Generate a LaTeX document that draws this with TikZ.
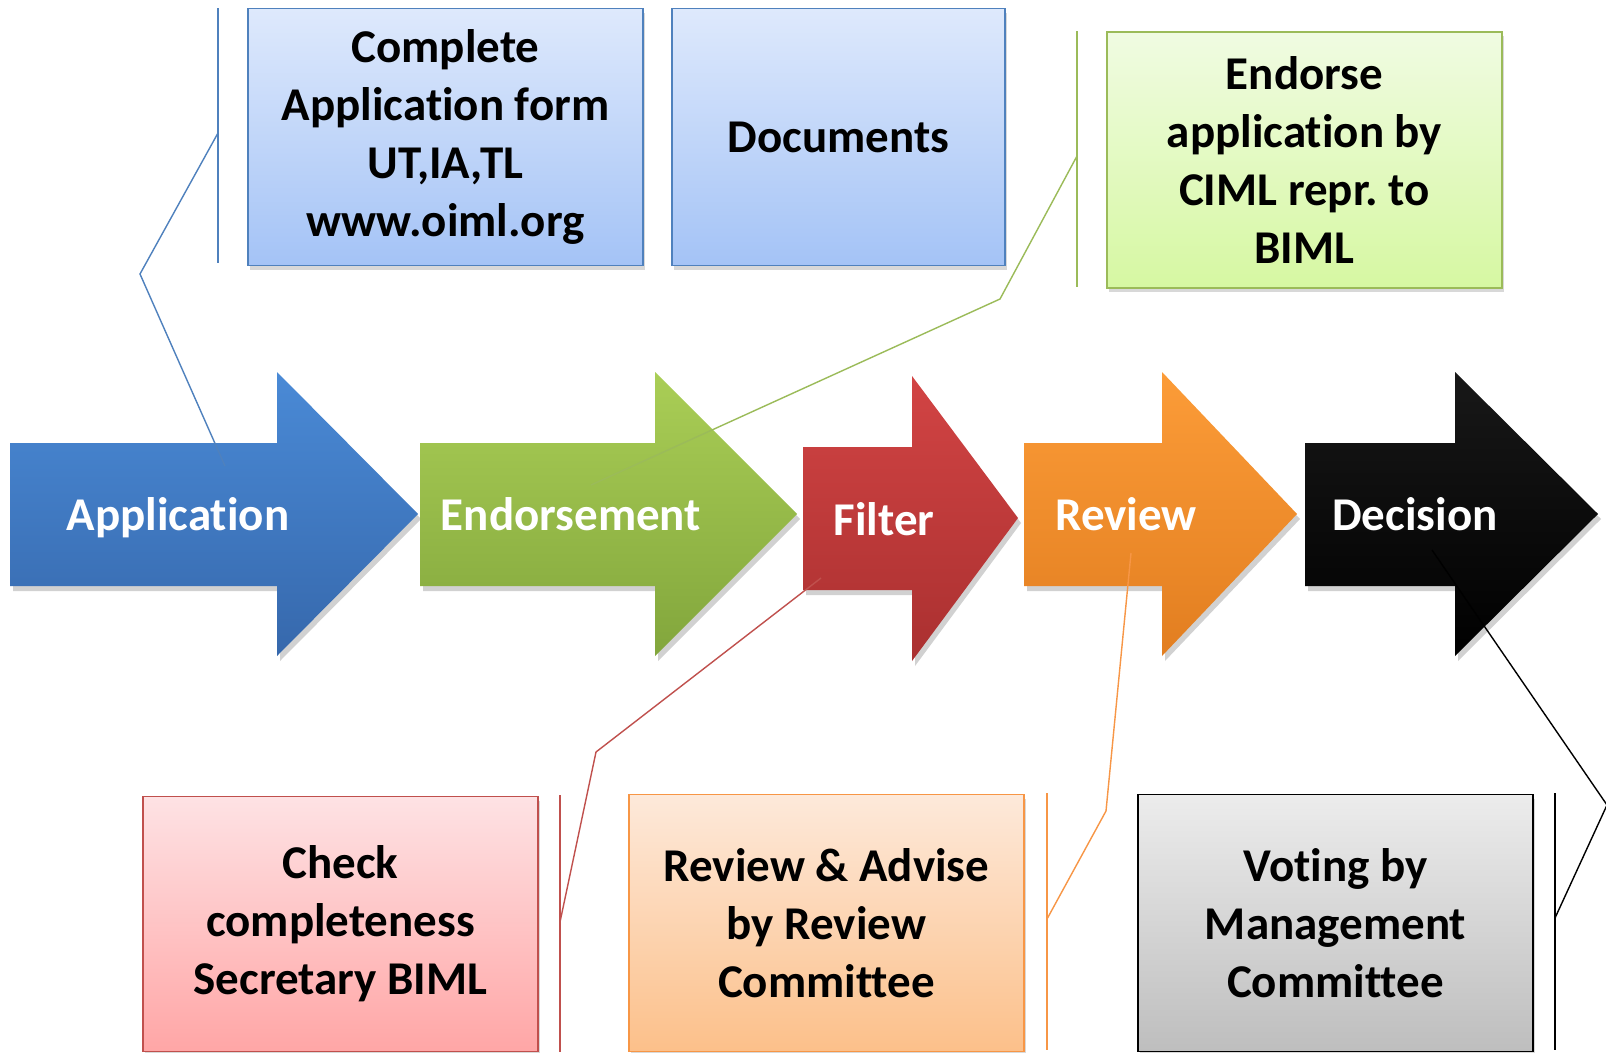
\documentclass[tikz,border=0pt]{standalone}
\usepackage{fontspec}
\setmainfont{Carlito}[Ligatures=NoCommon]
\frenchspacing
\usetikzlibrary{shadows}
\definecolor{bluebord}{HTML}{4F81BD}
\definecolor{greenbord}{HTML}{9BBB59}
\definecolor{redbord}{HTML}{C0504D}
\definecolor{orangebord}{HTML}{F79646}
\tikzset{
  txt/.style={font=\fontsize{47}{58}\selectfont\bfseries},
  infobox/.style={draw, line width=1.6pt, align=center, inner sep=0pt, txt,
    drop shadow={shadow xshift=2pt, shadow yshift=-4pt, opacity=0.3}},
  arrlabel/.style={txt, text=white, inner sep=0pt, anchor=base},
  arrshadow/.style={fill=black, opacity=0.18},
  callout/.style={line width=1.4pt},
}
\begin{document}
\begin{tikzpicture}[x=1pt, y=-1pt]
\useasboundingbox (0,0) rectangle (1606,1052);
\fill[white] (0,0) rectangle (1606,1052);

% ---------- top boxes ----------
\node[infobox, draw=bluebord, top color={rgb,255:red,222;green,233;blue,252}, bottom color={rgb,255:red,164;green,195;blue,246},
  minimum width=395pt, minimum height=257pt] (boxA) at (445.5,137)
  {Complete\\Application form\\UT,IA,TL\\www.oiml.org};
\node[infobox, draw=bluebord, top color={rgb,255:red,222;green,233;blue,252}, bottom color={rgb,255:red,164;green,195;blue,246},
  minimum width=333pt, minimum height=257pt] (boxD) at (838.5,137) {Documents};
\node[infobox, draw=greenbord, top color={rgb,255:red,240;green,251;blue,226}, bottom color={rgb,255:red,214;green,248;blue,162},
  minimum width=395pt, minimum height=256pt] (boxE) at (1304.5,160)
  {Endorse\\application by\\CIML repr. to\\BIML};

% ---------- bottom boxes ----------
\node[infobox, draw=redbord, top color={rgb,255:red,254;green,226;blue,228}, bottom color={rgb,255:red,255;green,166;blue,166},
  minimum width=395pt, minimum height=255pt] (boxF) at (340.5,924)
  {Check\\completeness\\Secretary BIML};
\node[infobox, draw=orangebord, top color={rgb,255:red,253;green,233;blue,218}, bottom color={rgb,255:red,252;green,192;blue,138},
  minimum width=395pt, minimum height=257pt] (boxR) at (826.5,923)
  {Review \& Advise\\by Review\\Committee};
\node[infobox, draw=black, top color={rgb,255:red,236;green,236;blue,236}, bottom color={rgb,255:red,190;green,190;blue,190},
  minimum width=395pt, minimum height=257pt] (boxV) at (1335.5,923)
  {Voting by\\Management\\Committee};

% ---------- arrows ----------
\begin{scope}[shift={(3,5)}]
  \fill[arrshadow] (10,443) -- (277,443) -- (277,372) -- (418,514) -- (277,656) -- (277,586) -- (10,586) -- cycle;
  \fill[arrshadow] (420,443) -- (655,443) -- (655,372) -- (797,514) -- (655,656) -- (655,586) -- (420,586) -- cycle;
  \fill[arrshadow] (803,447) -- (912,447) -- (912,376) -- (1018,518) -- (912,661) -- (912,590) -- (803,590) -- cycle;
  \fill[arrshadow] (1024,443) -- (1162,443) -- (1162,372) -- (1297,514) -- (1162,656) -- (1162,586) -- (1024,586) -- cycle;
  \fill[arrshadow] (1305,443) -- (1455,443) -- (1455,372) -- (1598,514) -- (1455,656) -- (1455,586) -- (1305,586) -- cycle;
\end{scope}
\shade[top color={rgb,255:red,74;green,138;blue,214}, bottom color={rgb,255:red,54;green,104;blue,172}]
  (10,443) -- (277,443) -- (277,372) -- (418,514) -- (277,656) -- (277,586) -- (10,586) -- cycle;
\shade[top color={rgb,255:red,170;green,206;blue,86}, bottom color={rgb,255:red,130;green,166;blue,60}]
  (420,443) -- (655,443) -- (655,372) -- (797,514) -- (655,656) -- (655,586) -- (420,586) -- cycle;
\shade[top color={rgb,255:red,210;green,68;blue,68}, bottom color={rgb,255:red,170;green,48;blue,48}]
  (803,447) -- (912,447) -- (912,376) -- (1018,518) -- (912,661) -- (912,590) -- (803,590) -- cycle;
\shade[top color={rgb,255:red,252;green,156;blue,56}, bottom color={rgb,255:red,226;green,126;blue,32}]
  (1024,443) -- (1162,443) -- (1162,372) -- (1297,514) -- (1162,656) -- (1162,586) -- (1024,586) -- cycle;
\shade[top color={rgb,255:red,24;green,24;blue,24}, bottom color=black]
  (1305,443) -- (1455,443) -- (1455,372) -- (1598,514) -- (1455,656) -- (1455,586) -- (1305,586) -- cycle;

\node[arrlabel] (lApp) at (178,530) {Application};
\node[arrlabel] (lEnd) at (571,530) {Endorsement};
\node[arrlabel] (lFil) at (884,535) {Filter};
\node[arrlabel] (lRev) at (1126,530) {Review};
\node[arrlabel] (lDec) at (1415,530) {Decision};

% ---------- callout coordinates ----------
\coordinate (bT) at (218,8);    \coordinate (bB) at (218,263);
\coordinate (b1) at (218,133);  \coordinate (b2) at (140,274);  \coordinate (b3) at (225,466);
\coordinate (gT) at (1077,31);  \coordinate (gB) at (1077,287);
\coordinate (g1) at (1077,156); \coordinate (g2) at (1000,299); \coordinate (g3) at (591,485);
\coordinate (rT) at (560,795);  \coordinate (rB) at (560,1052);
\coordinate (r1) at (560,922);  \coordinate (r2) at (596,752);  \coordinate (r3) at (821,578);
\coordinate (oT) at (1047,793); \coordinate (oB) at (1047,1050);
\coordinate (o1) at (1047,919); \coordinate (o2) at (1106,811); \coordinate (o3) at (1131,553);
\coordinate (kT) at (1555,793); \coordinate (kB) at (1555,1050);
\coordinate (k1) at (1555,918); \coordinate (k2) at (1607,805); \coordinate (k3) at (1432,550);

% ---------- callouts ----------
\draw[callout, bluebord] (bT) -- (bB);
\draw[callout, bluebord] (b1) -- (b2) -- (b3);
\draw[callout, greenbord] (gT) -- (gB);
\draw[callout, greenbord] (g1) -- (g2) -- (g3);
\draw[callout, redbord] (rT) -- (rB);
\draw[callout, redbord] (r1) -- (r2) -- (r3);
\draw[callout, orangebord] (oT) -- (oB);
\draw[callout, orangebord] (o1) -- (o2) -- (o3);
\draw[callout, black] (kT) -- (kB);
\draw[callout, black] (k1) -- (k2) -- (k3);
\end{tikzpicture}
\end{document}
